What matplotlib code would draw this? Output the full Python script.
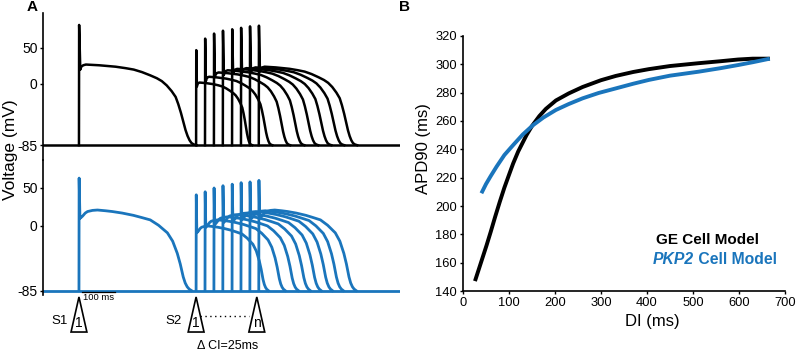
import numpy as np
import matplotlib
matplotlib.use("Agg")
import matplotlib.pyplot as plt
from matplotlib.patches import Polygon

plt.rcParams['font.family'] = ['Liberation Sans', 'DejaVu Sans']
plt.rcParams['axes.unicode_minus'] = False

black = '#000000'
blue = '#1a75bc'
rest = -85.

# ---- panel A : S1 beat (ms after S1, mV)
s1_t_ge = [3, 6, 12, 20, 40, 60, 85, 110, 140, 165, 190, 215, 235, 250, 265, 280,
           292, 300, 308, 315, 322, 328, 334, 340, 347, 355]
s1_v_ge = [20, 24, 26, 27, 26.5, 26, 25, 24, 22, 20, 16.5, 12, 8, 4, -2, -10,
           -18, -28, -40, -52, -64, -72, -78, -82, -84, -85]
s1_peak_ge = 82.

s1_t_pkp = [2, 5, 10, 18, 25, 40, 55, 80, 100, 130, 164, 190, 215, 240, 267, 283,
            297, 306, 315, 321, 327, 333, 340]
s1_v_pkp = [10, 11, 13, 17, 19, 20.5, 21, 20, 19, 17, 14, 11, 8, 1, -9, -20,
            -36, -50, -67, -75, -80, -83, -85]
s1_peak_pkp = 63.

# S2 beats (8 of them, CI step 25 ms)
s2_onset = [355, 382, 409, 436, 464, 491, 518, 545]
s2_peak_ge = [47, 63, 70, 74, 76, 78, 80, 81]
s2_plat_ge = [2, 10, 16, 19, 21, 22, 23, 24]
s2_dur_ge = [169, 203, 230, 246, 260, 273, 285, 297]
s2_peak_pkp = [41, 45, 50, 53, 55, 57, 58, 60]
s2_plat_pkp = [0, 8, 12, 15, 17, 19, 20, 21]
s2_dur_pkp = [218, 242, 255, 264, 269, 276, 282, 294]

# ---- panel B : restitution curves
di_ge = [26, 35, 45, 51, 60, 70, 80, 90, 100, 109, 120, 138, 150, 166, 180, 202,
         230, 260, 300, 332, 370, 404, 450, 512, 560, 598, 630, 667]
apd_ge = [147, 156, 166, 172, 181.5, 192.5, 203, 213, 222, 230, 238.5, 250, 256.5,
          263.5, 268.5, 274.5, 279.5, 284, 288.8, 291.8, 294.6, 296.6, 298.8, 300.8,
          302.2, 303.4, 304, 304]
di_pkp = [40, 50, 60, 73, 90, 109, 130, 152, 175, 202, 230, 260, 295, 332, 370,
          404, 450, 512, 560, 598, 630, 667]
apd_pkp = [209, 215.5, 221, 227.8, 236, 243, 250.5, 257, 262.5, 267.8, 272, 276,
           279.8, 283, 286.3, 289, 292, 294.8, 297.3, 299.5, 301.5, 304]


def ap(t0, peak, tt, vv, dur=None, plat=None):
    tt = np.array(tt, float)
    vv = np.array(vv, float)
    if dur is not None:
        # stretch the S1 plateau to this beat
        vv = rest + (vv - rest) * (plat - rest) / (vv.max() - rest)
        tt = tt * dur / tt[-1]
    t = np.concatenate([[t0, t0 + 0.5], t0 + 1 + tt])
    v = np.concatenate([[rest, peak], vv])
    return t, v


fig = plt.figure(figsize=(7.96, 3.51), dpi=100)
W, H = 796., 351.

xlo, xhi = -109, 973
axA1 = fig.add_axes([43/W, 1-160/H, 357/W, 147/H])
axA2 = fig.add_axes([43/W, 1-295/H, 357/W, 135/H])
axA1.set_ylim(-105.6, 98.6)
axA2.set_ylim(-90.8, 86.8)

for ax, col, lw, peak, tt, vv, peaks, plats, durs in [
        (axA1, black, 1.8, s1_peak_ge, s1_t_ge, s1_v_ge, s2_peak_ge, s2_plat_ge, s2_dur_ge),
        (axA2, blue, 2.0, s1_peak_pkp, s1_t_pkp, s1_v_pkp, s2_peak_pkp, s2_plat_pkp, s2_dur_pkp)]:
    ax.plot([xlo, xhi], [rest, rest], color=col, lw=lw)
    t, v = ap(0, peak, tt, vv)
    ax.plot(t, v, color=col, lw=lw)
    for i in range(len(s2_onset)):
        t, v = ap(s2_onset[i], peaks[i], tt, vv, durs[i], plats[i])
        ax.plot(t, v, color=col, lw=lw)
    ax.set_xlim(xlo, xhi)
    ax.set_yticks([-85, 0, 50])
    ax.tick_params(axis='y', labelsize=10, length=2.5, pad=1.5, width=1)
    ax.set_xticks([])
    for s in ['top', 'right', 'bottom']:
        ax.spines[s].set_visible(False)
    ax.spines['left'].set_linewidth(1.2)
    ax.patch.set_alpha(0)

fig.text(11/W, 1-150/H, 'Voltage (mV)', rotation=90, ha='center', va='center', fontsize=12.5)
fig.text(32/W, 1-7/H, 'A', ha='center', va='center', fontsize=11, fontweight='bold')
fig.text(405/W, 1-7/H, 'B', ha='center', va='center', fontsize=11, fontweight='bold')

# scale bar and stimulus markers under the blue traces
axA2.plot([10, 110], [-86.5, -86.5], color='k', lw=0.9, clip_on=False)
axA2.text(12, -88.5, '100 ms', fontsize=6.8, ha='left', va='top')


def stim(ax, t, label):
    tri = Polygon([[t, -93.4], [t - 24, -139.5], [t + 24, -139.5]], closed=True,
                  fill=False, edgecolor='k', lw=1.2, clip_on=False)
    ax.add_patch(tri)
    ax.text(t, -127, label, ha='center', va='center', fontsize=10)


stim(axA2, 0, '1')
stim(axA2, s2_onset[0], '1')
stim(axA2, s2_onset[-1] - 6, 'n')
axA2.text(-33, -125, 'S1', ha='right', va='center', fontsize=9.5)
axA2.text(s2_onset[0] - 45, -125, 'S2', ha='right', va='center', fontsize=9.5)
axA2.plot([s2_onset[0] + 12, s2_onset[-1] - 30], [-118, -118], color='k', lw=1,
          ls=(0, (1, 2.5)), clip_on=False)
axA2.text((s2_onset[0] + s2_onset[-1]) / 2, -158, '\u0394 CI=25ms', ha='center', va='center',
          fontsize=9)

# ---- panel B
axB = fig.add_axes([463/W, 1-291/H, 322/W, 255/H])
axB.plot(di_ge, apd_ge, color=black, lw=2.8, solid_capstyle='butt', solid_joinstyle='round')
axB.plot(di_pkp, apd_pkp, color=blue, lw=2.8, solid_capstyle='butt', solid_joinstyle='round')
axB.set_xlim(0, 700)
axB.set_ylim(140, 320)
axB.set_xticks(range(0, 701, 100))
axB.set_yticks(range(140, 321, 20))
axB.tick_params(labelsize=9.3, length=2.5, pad=2, width=1)
for s in ['top', 'right']:
    axB.spines[s].set_visible(False)
for s in ['left', 'bottom']:
    axB.spines[s].set_linewidth(1.2)
axB.set_xlabel('DI (ms)', fontsize=12)
axB.set_ylabel('APD90 (ms)', fontsize=12)
axB.xaxis.set_label_coords(0.587, -0.09)
axB.yaxis.set_label_coords(-0.098, 0.559)

axB.text(0.6, 0.2, 'GE Cell Model', transform=axB.transAxes, fontsize=11,
         fontweight='bold', color=black, va='center', ha='left')
t1 = axB.text(0.59, 0.122, 'PKP2', transform=axB.transAxes, fontsize=11.3,
              fontweight='bold', style='italic', color=blue, va='center', ha='left')
axB.annotate(' Cell Model', xy=(1, 0.5), xycoords=t1, fontsize=11.3, fontweight='bold',
             color=blue, va='center', ha='left')

fig.savefig('out.png', dpi=100)
